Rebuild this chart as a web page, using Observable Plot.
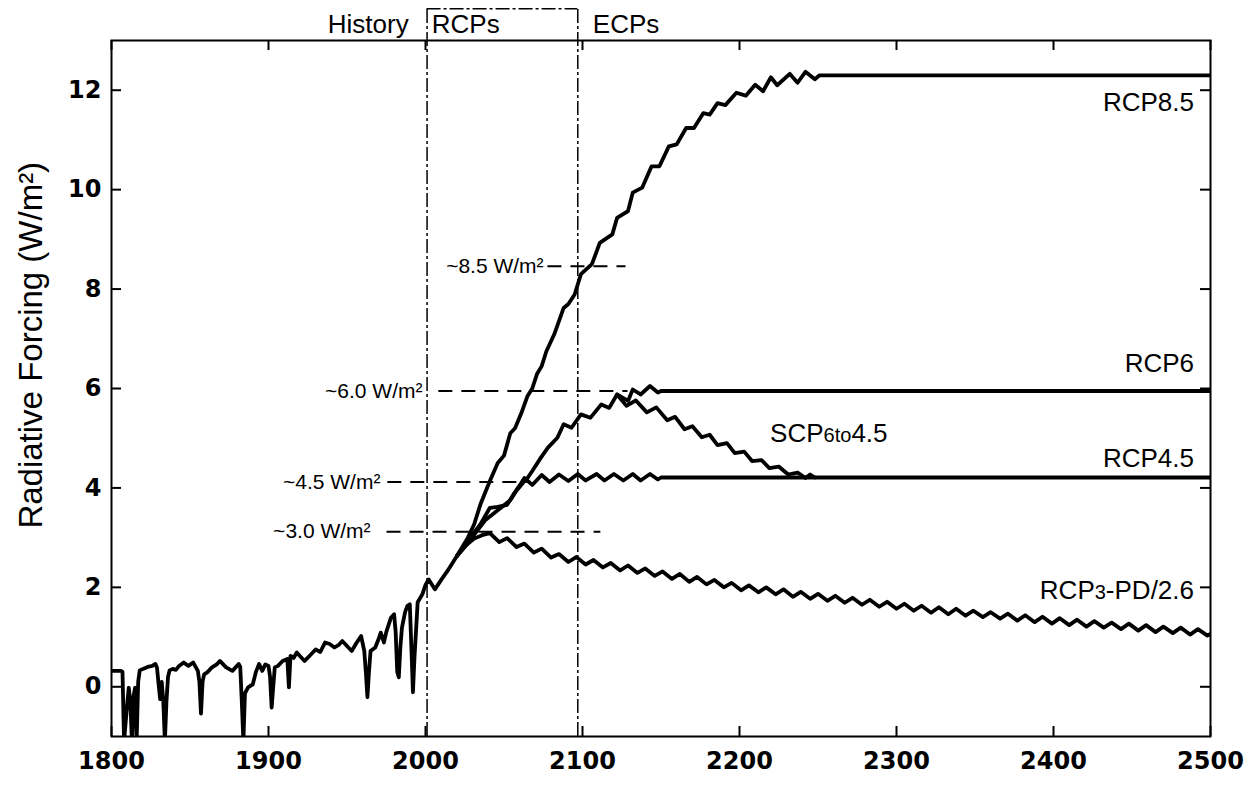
<!DOCTYPE html>
<html><head><meta charset="utf-8">
<script src="https://cdn.jsdelivr.net/npm/d3@7"></script>
<script src="https://cdn.jsdelivr.net/npm/@observablehq/plot@0.6"></script>
<style>
html,body{margin:0;padding:0;background:#fff;}
#chart svg{display:block;}
</style></head><body><div id="chart"></div>
<script>
// ---- axis ticks ----
const xTicks = [1800, 1900, 2000, 2100, 2200, 2300, 2400, 2500];
const yTicks = [0, 2, 4, 6, 8, 10, 12];

// ---- historical forcing (year, W/m2), shared by all scenarios up to 2020 ----
const history = [[1800,0.32],[1806,0.32],[1807,0.30],[1808,-1.1],[1810,-0.35],[1811,-0.02],[1812,-0.3],[1813,-1.1],[1814,-0.2],[1815,-0.02],[1816,-1.1],[1817,0.1],[1818,0.33],[1820,0.36],[1823,0.40],[1826,0.42],[1828,0.46],[1829,0.38],[1830,0.05],[1831,-0.25],[1832,0.1],[1833,-0.3],[1834,-1.1],[1835,-0.3],[1836,0.2],[1837,0.33],[1839,0.36],[1841,0.34],[1843,0.42],[1846,0.49],[1849,0.42],[1852,0.49],[1855,0.32],[1856,0.1],[1857,-0.54],[1858,0.1],[1859,0.25],[1861,0.29],[1864,0.39],[1867,0.45],[1869,0.52],[1873,0.39],[1877,0.32],[1881,0.46],[1882,0.4],[1883,-0.3],[1884,-1.1],[1885,-0.13],[1887,-0.01],[1890,0.05],[1892,0.3],[1894,0.46],[1896,0.32],[1898,0.45],[1900,0.42],[1901,0.2],[1902,-0.42],[1903,0.0],[1904,0.39],[1906,0.42],[1909,0.52],[1912,0.56],[1913,-0.01],[1914,0.62],[1916,0.58],[1918,0.69],[1920,0.62],[1923,0.52],[1927,0.65],[1930,0.75],[1933,0.70],[1936,0.89],[1939,0.86],[1942,0.79],[1945,0.85],[1947,0.92],[1950,0.82],[1953,0.72],[1956,0.88],[1959,1.02],[1961,0.72],[1962,0.3],[1963,-0.21],[1964,0.3],[1965,0.72],[1968,0.79],[1970,0.95],[1971.5,1.09],[1973.5,0.89],[1975,1.1],[1978,1.39],[1980,1.46],[1981,1.1],[1982,0.3],[1983,0.19],[1984,0.8],[1985,1.19],[1987,1.5],[1988.5,1.63],[1990,1.66],[1991,0.8],[1992,-0.11],[1993,0.6],[1995,1.70],[1998,1.86],[2000,2.05],[2002,2.16],[2006,1.96],[2010,2.15],[2014,2.33],[2020,2.63]];

// ---- scenario pathways (year, W/m2) ----
const rcp85 = [[2020,2.63],[2027,3.0],[2031,3.27],[2035,3.67],[2041,4.14],[2046,4.5],[2050,4.65],[2054,5.1],[2057,5.2],[2061,5.5],[2065,5.85],[2068,6.0],[2071,6.29],[2074,6.45],[2077,6.75],[2082,7.09],[2088,7.62],[2091,7.7],[2095,7.89],[2099,8.3],[2106,8.5],[2111,8.93],[2119,9.1],[2122,9.43],[2129,9.57],[2132,9.94],[2138,10.04],[2144,10.47],[2149,10.47],[2155,10.87],[2160,10.91],[2166,11.24],[2171,11.24],[2177,11.54],[2181,11.51],[2186,11.74],[2191,11.70],[2198,11.95],[2204,11.89],[2210,12.11],[2215,11.98],[2220,12.26],[2224,12.10],[2232,12.33],[2237,12.15],[2242,12.37],[2248,12.22],[2251,12.30],[2500,12.30]];

const rcp6 = [[2020,2.63],[2026,2.85],[2032,3.1],[2038,3.35],[2044,3.5],[2050,3.65],[2054,3.75],[2058,3.95],[2062,4.1],[2065,4.2],[2068,4.34],[2073.5,4.61],[2078,4.81],[2084,5.01],[2088,5.28],[2093,5.21],[2099,5.48],[2105,5.41],[2112,5.68],[2117,5.61],[2122,5.88],[2129,5.75],[2132,5.98],[2137,5.88],[2143,6.05],[2148,5.92],[2150,5.95],[2500,5.95]];

const scp6to45 = [[2122,5.88],[2128,5.65],[2134,5.76],[2141,5.52],[2147,5.62],[2154,5.36],[2159,5.43],[2165,5.18],[2170,5.24],[2176,5.02],[2181,5.07],[2186,4.86],[2192,4.90],[2197,4.70],[2203,4.73],[2208,4.54],[2214,4.56],[2219,4.40],[2225,4.43],[2231,4.27],[2237,4.31],[2242,4.20],[2245,4.27],[2248,4.21]];

const rcp45 = [[2020,2.63],[2026,2.9],[2031,3.1],[2035,3.27],[2041,3.6],[2046,3.62],[2052,3.66],[2056,3.87],[2060,4.05],[2063,4.2],[2068,4.06],[2074,4.26],[2079,4.12],[2085,4.27],[2091,4.14],[2097,4.28],[2102,4.15],[2109,4.28],[2114,4.15],[2120,4.28],[2126,4.15],[2132,4.28],[2137,4.15],[2143,4.28],[2148,4.17],[2150,4.21],[2500,4.21]];

const rcp3pd = [[2020,2.63],[2026,2.85],[2031,2.98],[2036,3.05],[2041,3.09],[2047,2.91],[2052,2.99],[2058,2.81],[2063,2.88],[2069,2.70],[2074,2.78],[2080,2.60],[2085,2.67],[2091,2.51],[2096,2.61],[2102,2.46],[2107,2.55],[2113,2.40],[2118,2.49],[2124,2.34],[2129,2.44],[2135,2.29],[2140,2.38],[2146,2.23],[2151,2.32],[2157,2.17],[2162,2.27],[2168,2.11],[2173,2.21],[2179,2.06],[2184,2.15],[2190,2.00],[2195,2.09],[2201,1.94],[2206,2.04],[2212,1.90],[2217,2.00],[2223,1.86],[2228,1.96],[2234,1.81],[2239,1.91],[2245,1.77],[2250,1.87],[2256,1.73],[2261,1.83],[2267,1.69],[2272,1.79],[2278,1.65],[2283,1.75],[2289,1.61],[2294,1.71],[2300,1.57],[2305,1.67],[2311,1.53],[2316,1.63],[2322,1.49],[2327,1.60],[2333,1.46],[2338,1.57],[2344,1.43],[2349,1.53],[2355,1.40],[2360,1.50],[2366,1.37],[2371,1.47],[2377,1.33],[2382,1.44],[2388,1.30],[2393,1.41],[2399,1.27],[2404,1.38],[2410,1.24],[2415,1.35],[2421,1.21],[2426,1.32],[2432,1.19],[2437,1.29],[2443,1.16],[2448,1.27],[2454,1.13],[2459,1.24],[2465,1.10],[2470,1.21],[2476,1.08],[2481,1.19],[2487,1.05],[2492,1.16],[2498,1.03],[2500,1.06]];

// ---- period boundaries ----
const periodBounds = [2001, 2097];
const periodNames = ["History", "RCPs", "ECPs"];

// ---- forcing level markers ----
const levelNames = ["~8.5 W/m²", "~6.0 W/m²", "~4.5 W/m²", "~3.0 W/m²"];
const levelValues = [8.46, 5.95, 4.12, 3.12];
const levelFrom = [2078, 2008.5, 1976, 1975.5];
const levelTo = [2127.7, 2129, 2065, 2111.7];
const levelLabelAt = [2075.2, 1998.1, 1971.3, 1965];

// ---- scenario labels ----
const seriesNames = ["RCP8.5", "RCP6", "SCP6to4.5", "RCP4.5", "RCP3-PD/2.6"];

// ---------------- build ----------------
const W = 1253, H = 788, mL = 111, mR = 43, mT = 40, mB = 52;
const rows = (pts, name) => pts.map(([year, value]) => ({year, value, name}));
const lineRows = [
  ...rows(history, "History"), ...rows(rcp85, "RCP8.5"), ...rows(rcp6, "RCP6"),
  ...rows(scp6to45, "SCP6to4.5"), ...rows(rcp45, "RCP4.5"), ...rows(rcp3pd, "RCP3-PD/2.6")
];
const pxPerYear = (W - mL - mR) / 700;
const pxPerUnit = (H - mT - mB) / 14;
const tx = 10 / pxPerYear, ty = 10 / pxPerUnit;
const levels = levelNames.map((t, i) => ({t, v: levelValues[i], a: levelFrom[i], b: levelTo[i], l: levelLabelAt[i]}));
const topY = 13.64;
const sans = "Liberation Sans, Arial, Helvetica, sans-serif";

const seriesLabelPos = [
  {x: 2489.5, y: 11.75}, {x: 2489.5, y: 6.5}, {x: 2294.3, y: 5.09},
  {x: 2489.5, y: 4.58}, {x: 2489.5, y: 1.93}
];
const seriesLabels = seriesNames.map((t, i) => ({t, ...seriesLabelPos[i]}));
const periodLabels = [
  {t: periodNames[0], x: 1989.3},
  {t: periodNames[1], x: 2004},
  {t: periodNames[2], x: 2106.6}
];

const chart = Plot.plot({
  width: W, height: H,
  marginLeft: mL, marginRight: mR, marginTop: mT, marginBottom: mB,
  x: {domain: [1800, 2500]},
  y: {domain: [-1, 13]},
  style: {background: "white", color: "black", fontFamily: sans, overflow: "visible"},
  marks: [
    // period boundary lines and RCP box
    Plot.ruleX(periodBounds, {y1: -1, y2: topY, stroke: "black", strokeWidth: 1.5, strokeDasharray: "14,3,3,3"}),
    Plot.ruleY([topY], {x1: periodBounds[0], x2: periodBounds[1], stroke: "black", strokeWidth: 1.5, strokeDasharray: "14,3,3,3"}),
    Plot.text(periodLabels.slice(0, 1), {x: "x", y: 13.32, text: "t", textAnchor: "end", lineAnchor: "middle", fontSize: 26, fontFamily: sans, fill: "black"}),
    Plot.text(periodLabels.slice(1), {x: "x", y: 13.32, text: "t", textAnchor: "start", lineAnchor: "middle", fontSize: 26, fontFamily: sans, fill: "black"}),
    // forcing level dashed markers
    Plot.ruleY(levels, {y: "v", x1: "a", x2: "b", stroke: "black", strokeWidth: 2, strokeDasharray: "14,9"}),
    Plot.text(levels, {x: "l", y: "v", text: "t", textAnchor: "end", lineAnchor: "middle", fontSize: 21, fontFamily: sans, fill: "black"}),
    // curves
    Plot.line(lineRows, {x: "year", y: "value", z: "name", stroke: "black", strokeWidth: 3.8, strokeLinejoin: "round", strokeLinecap: "round", clip: true}),
    // scenario labels
    Plot.text(seriesLabels, {x: "x", y: "y", text: "t", textAnchor: "end", lineAnchor: "middle", fontSize: 26, fontFamily: sans, fill: "black"}),
    // inward ticks on all four sides
    Plot.ruleY(yTicks, {x1: 1800, x2: 1800 + tx, stroke: "black", strokeWidth: 2}),
    Plot.ruleY(yTicks, {x1: 2500 - tx, x2: 2500, stroke: "black", strokeWidth: 2}),
    Plot.ruleX(xTicks, {y1: -1, y2: -1 + ty, stroke: "black", strokeWidth: 2}),
    Plot.ruleX(xTicks, {y1: 13 - ty, y2: 13, stroke: "black", strokeWidth: 2}),
    // axes labels
    Plot.axisY({ticks: yTicks, tickSize: 0, tickPadding: 10, fontSize: 24, fontWeight: "bold", fontFamily: "DejaVu Sans", label: null}),
    Plot.axisX({ticks: xTicks, tickSize: 0, tickPadding: 15, fontSize: 24, fontWeight: "bold", fontFamily: "DejaVu Sans", tickFormat: d => String(d), label: null}),
    Plot.text([{t: "Radiative Forcing (W/m²)", v: 6.87}], {y: "v", text: "t", frameAnchor: "left", dx: -80, rotate: -90, textAnchor: "middle", lineAnchor: "middle", fontSize: 33, fontFamily: sans, fill: "black"}),
    Plot.frame({stroke: "black", strokeWidth: 2})
  ]
});

// smaller figures inside two scenario names, as in the original figure
const small = {"SCP6to4.5": ["SCP", "6to", "4.5"], "RCP3-PD/2.6": ["RCP", "3", "-PD/2.6"]};
d3.select(chart).selectAll("text").each(function () {
  const parts = small[this.textContent];
  if (!parts) return;
  const el = d3.select(this);
  el.text(null);
  el.append("tspan").text(parts[0]);
  el.append("tspan").attr("font-size", 20).text(parts[1]);
  el.append("tspan").text(parts[2]);
});
document.getElementById("chart").appendChild(chart);
</script>
</body></html>
